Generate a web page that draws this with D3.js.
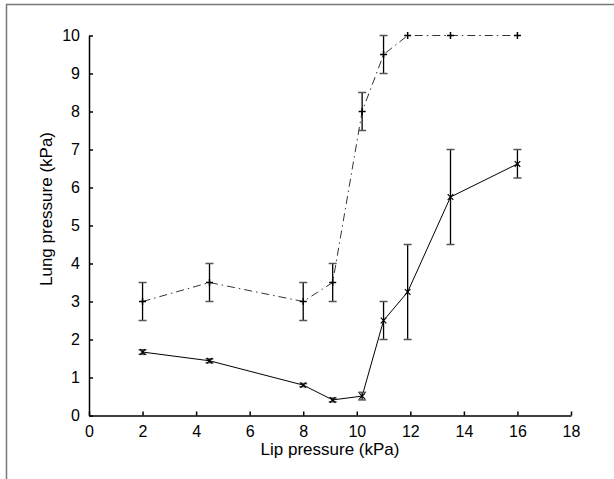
<!DOCTYPE html>
<html>
<head>
<meta charset="utf-8">
<script src="https://cdn.jsdelivr.net/npm/d3@7"></script>
<style>
  body { margin: 0; background: #fff; }
  svg { display: block; font-family: "Liberation Sans", Arial, sans-serif; }
  .axis path, .axis line { stroke: #000; stroke-width: 1.5; }
  .axis text { font-size: 16px; fill: #000; }
</style>
</head>
<body>
<svg width="614" height="479"></svg>
<script>
// lip pressure (kPa) for each measurement
const lipX = [2, 4.5, 8, 9.1, 10.2, 11, 11.9, 13.5, 16];

// dash-dot series (+ markers)
const upperY   = [3, 3.5, 3, 3.5, 8, 9.5, 10, 10, 10];
const upperErr = [0.5, 0.5, 0.5, 0.5, 0.5, 0.5, 0, 0, 0];

// solid series (x markers)
const lowerY   = [1.67, 1.44, 0.8, 0.41, 0.51, 2.5, 3.25, 5.75, 6.62];
const lowerLo  = [1.61, 1.39, 0.76, 0.36, 0.41, 2.0, 2.0, 4.5, 6.25];
const lowerHi  = [1.73, 1.49, 0.84, 0.46, 0.61, 3.0, 4.5, 7.0, 7.0];

const xTicks = [0, 2, 4, 6, 8, 10, 12, 14, 16, 18];
const yTicks = [0, 1, 2, 3, 4, 5, 6, 7, 8, 9, 10];

const svg = d3.select("svg");

// grey figure frame (top and left edges)
svg.append("path")
  .attr("d", "M6.5,479V4.5H614")
  .attr("fill", "none")
  .attr("stroke", "#777")
  .attr("stroke-width", 1.5);

const x = d3.scaleLinear().domain([0, 18]).range([89, 571]);
const y = d3.scaleLinear().domain([0, 10]).range([415.5, 35.5]);

svg.append("g")
  .attr("class", "axis")
  .attr("transform", "translate(0,415.5)")
  .call(d3.axisBottom(x).tickValues(xTicks).tickSizeInner(-4).tickSizeOuter(0).tickPadding(10))
  .call(g => g.selectAll("text").attr("dy", "0.71em"));

svg.append("g")
  .attr("class", "axis")
  .attr("transform", "translate(89,0)")
  .call(d3.axisLeft(y).tickValues(yTicks).tickSizeInner(-4).tickSizeOuter(0).tickPadding(9));

svg.selectAll(".axis text").attr("font-family", null);

svg.append("text")
  .attr("x", 330).attr("y", 455)
  .attr("text-anchor", "middle")
  .attr("font-size", 17)
  .text("Lip pressure (kPa)");

svg.append("text")
  .attr("transform", "translate(52,209) rotate(-90)")
  .attr("text-anchor", "middle")
  .attr("font-size", 17)
  .text("Lung pressure (kPa)");

const upper = lipX.map((v, i) => ({ x: v, y: upperY[i], lo: upperY[i] - upperErr[i], hi: upperY[i] + upperErr[i] }));
const lower = lipX.map((v, i) => ({ x: v, y: lowerY[i], lo: lowerLo[i], hi: lowerHi[i] }));

const line = d3.line().x(d => x(d.x)).y(d => y(d.y));

svg.append("path")
  .datum(upper)
  .attr("d", line)
  .attr("fill", "none")
  .attr("stroke", "#333")
  .attr("stroke-width", 1)
  .attr("stroke-dasharray", "8,4,1.5,4");

svg.append("path")
  .datum(lower)
  .attr("d", line)
  .attr("fill", "none")
  .attr("stroke", "#000")
  .attr("stroke-width", 1);

function errorBars(data) {
  const g = svg.append("g");
  const bars = data.filter(d => d.hi > d.lo);
  g.selectAll(".stem").data(bars).join("line")
    .attr("x1", d => x(d.x)).attr("x2", d => x(d.x))
    .attr("y1", d => y(d.lo)).attr("y2", d => y(d.hi))
    .attr("stroke", "#000").attr("stroke-width", 1.3);
  ["lo", "hi"].forEach(k => {
    g.selectAll(".cap-" + k).data(bars).join("line")
      .attr("x1", d => x(d.x) - 4).attr("x2", d => x(d.x) + 4)
      .attr("y1", d => y(d[k])).attr("y2", d => y(d[k]))
      .attr("stroke", "#555").attr("stroke-width", 1.5);
  });
}
errorBars(upper);
errorBars(lower);

const s = 3.5;
svg.append("g").selectAll("path").data(upper).join("path")
  .attr("d", d => `M${x(d.x) - s},${y(d.y)}H${x(d.x) + s}M${x(d.x)},${y(d.y) - s}V${y(d.y) + s}`)
  .attr("stroke", "#000").attr("stroke-width", 1.5);

const t = 2.8;
svg.append("g").selectAll("path").data(lower).join("path")
  .attr("d", d => `M${x(d.x) - t},${y(d.y) - t}L${x(d.x) + t},${y(d.y) + t}M${x(d.x) - t},${y(d.y) + t}L${x(d.x) + t},${y(d.y) - t}`)
  .attr("stroke", "#000").attr("stroke-width", 1.2);
</script>
</body>
</html>
